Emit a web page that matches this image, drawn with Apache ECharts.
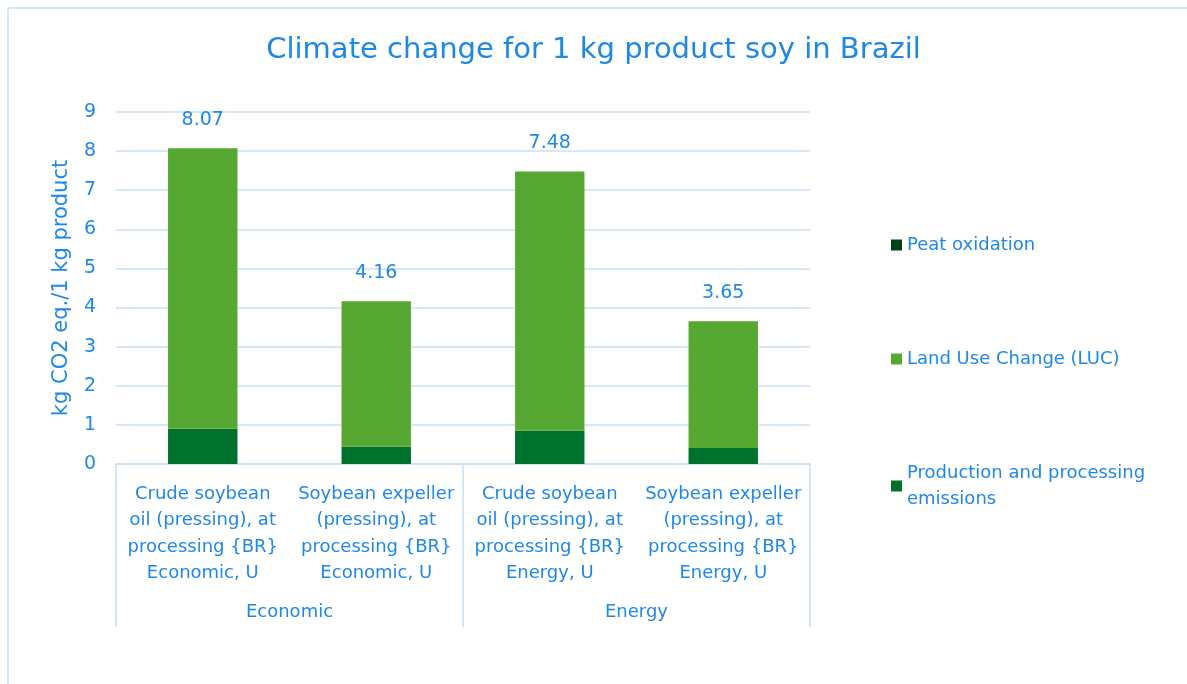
<!DOCTYPE html>
<html><head><meta charset="utf-8">
<script src="https://cdn.jsdelivr.net/npm/echarts@6/dist/echarts.min.js"></script>
<style>html,body{margin:0;padding:0;background:#fff}#c{width:1187px;height:684px}</style>
</head><body><div id="c"></div>
<script>
const categories = [
  'Crude soybean\noil (pressing), at\nprocessing {BR}\nEconomic, U',
  'Soybean expeller\n(pressing), at\nprocessing {BR}\nEconomic, U',
  'Crude soybean\noil (pressing), at\nprocessing {BR}\nEnergy, U',
  'Soybean expeller\n(pressing), at\nprocessing {BR}\nEnergy, U'
];
const groups = ['Economic', 'Energy'];
const production = [0.90, 0.44, 0.85, 0.41];
const luc = [7.17, 3.72, 6.63, 3.24];
const peat = [0, 0, 0, 0];
const totals = [8.07, 4.16, 7.48, 3.65];
const yTicks = [0, 1, 2, 3, 4, 5, 6, 7, 8, 9];

const blue = '#1E88E5';
const font = 'DejaVu Sans';
const chart = echarts.init(document.getElementById('c'));
chart.setOption({
  animation: false,
  textStyle: { fontFamily: font },
  title: {
    text: 'Climate change for 1 kg product soy in Brazil',
    left: 'center', top: 31,
    textStyle: { color: blue, fontSize: 29, fontWeight: 'normal', fontFamily: font }
  },
  graphic: [{
    type: 'rect', shape: { x: 8, y: 8, width: 1200, height: 700 },
    style: { fill: 'none', stroke: '#C8DFF5', lineWidth: 1.5 }, silent: true
  }],
  legend: {
    orient: 'vertical', left: 886, top: 227, itemGap: 88,
    itemWidth: 11, itemHeight: 11, icon: 'rect',
    data: ['Peat oxidation', 'Land Use Change (LUC)', 'Production and processing\nemissions'],
    textStyle: { color: blue, fontSize: 18, fontFamily: font, lineHeight: 26 }
  },
  grid: { left: 116, right: 377, top: 112, bottom: 220 },
  xAxis: [{
    type: 'category', data: categories,
    axisLine: { lineStyle: { color: '#C8DFF5', width: 1.5 } },
    axisTick: { show: false },
    axisLabel: { color: blue, fontSize: 18, lineHeight: 26.5, margin: 17, interval: 0, fontFamily: font }
  }, {
    type: 'category', data: groups, position: 'bottom',
    axisLine: { show: false },
    axisTick: { show: true, length: 163, interval: 0, lineStyle: { color: '#C8DFF5', width: 1.5 } },
    axisLabel: { color: blue, fontSize: 18, margin: 139, fontFamily: font }
  }],
  yAxis: {
    type: 'value', min: yTicks[0], max: yTicks[yTicks.length - 1], interval: 1,
    name: 'kg CO2 eq./1 kg product', nameLocation: 'middle', nameGap: 44,
    nameTextStyle: { color: blue, fontSize: 21, fontFamily: font },
    axisLine: { show: false }, axisTick: { show: false },
    axisLabel: { color: blue, fontSize: 19, margin: 20, fontFamily: font },
    splitLine: { lineStyle: { color: '#C8DFF5', width: 1.5 } }
  },
  series: [{
    name: 'Production and processing\nemissions', type: 'bar', stack: 's', data: production,
    barWidth: '40%', itemStyle: { color: '#00712D' }
  }, {
    name: 'Land Use Change (LUC)', type: 'bar', stack: 's', data: luc,
    itemStyle: { color: '#56A832' },
    label: { show: true, position: 'top', distance: 19, color: blue, fontSize: 19, fontFamily: font,
      formatter: p => totals[p.dataIndex].toFixed(2) }
  }, {
    name: 'Peat oxidation', type: 'bar', stack: 's', data: peat,
    itemStyle: { color: '#004218' }
  }]
});
</script></body></html>
